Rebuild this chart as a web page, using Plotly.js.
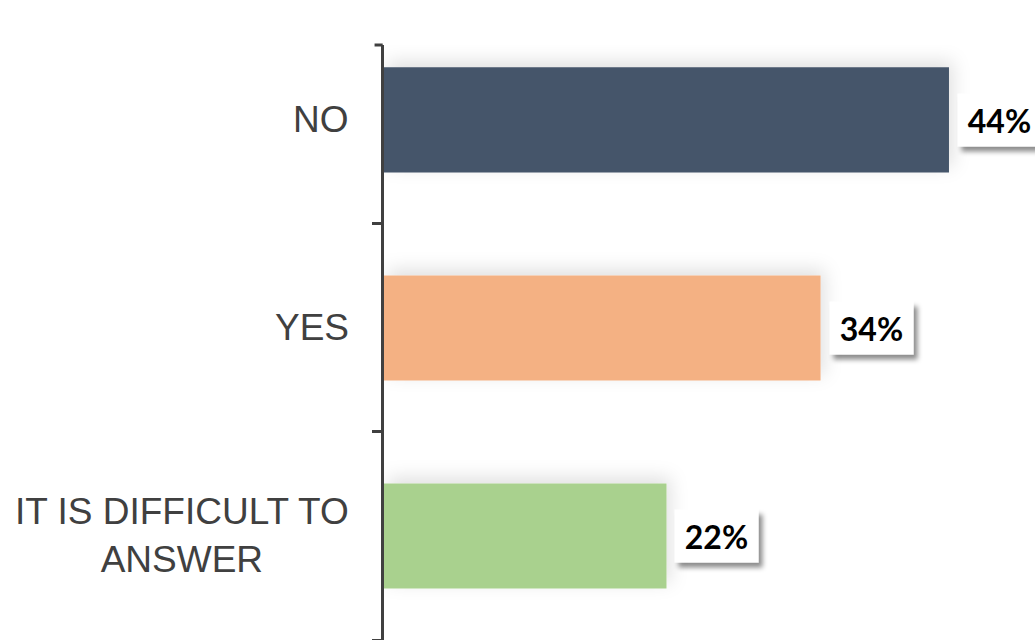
<!DOCTYPE html>
<html>
<head>
<meta charset="utf-8">
<script src="https://cdn.plot.ly/plotly-3.0.1.min.js"></script>
<style>
  html, body { margin: 0; padding: 0; background: #ffffff; }
  #chart { width: 1035px; height: 640px; }
</style>
</head>
<body>
<div id="chart"></div>
<script>
// ---- data ----
const categories = ["NO", "YES", "IT IS DIFFICULT TO ANSWER"];
const categoryLabels = ["NO", "YES", "IT IS DIFFICULT TO<br>ANSWER"];
const values = [44, 34, 22];
const barColors = ["#44546A", "#F4B183", "#A9D18E"];

// ---- chart ----
const barTrace = {
  type: "bar",
  orientation: "h",
  y: categories,
  x: values,
  width: 0.505,
  marker: { color: barColors, line: { width: 0 } },
  hoverinfo: "skip",
  showlegend: false
};

const annotations = [];
categories.forEach((c, i) => {
  annotations.push({
    xref: "paper", yref: "y", x: 0, y: c,
    xanchor: "right", yanchor: "middle", xshift: -33,
    text: categoryLabels[i], showarrow: false, align: "center",
    font: { family: "Liberation Sans, Arial, sans-serif", size: 37, color: "#404040" }
  });
  annotations.push({
    xref: "x", yref: "y", x: values[i], y: c,
    xanchor: "left", yanchor: "middle", xshift: 8,
    text: "<b>" + values[i] + "%</b>", showarrow: false,
    bgcolor: "#ffffff", width: 73, height: 42, borderpad: 5,
    font: { family: "Lato, Carlito, sans-serif", size: 32, color: "#000000" }
  });
});

const layout = {
  width: 1035, height: 640,
  margin: { l: 384, r: 0, t: 45, b: 0, pad: 0 },
  paper_bgcolor: "#ffffff", plot_bgcolor: "#ffffff",
  bargap: 0.5,
  xaxis: { range: [0, 50.7], visible: false, fixedrange: true },
  yaxis: {
    type: "category",
    categoryorder: "array",
    categoryarray: categories.slice().reverse(),
    range: [-0.5, 2.36],
    showline: true, linecolor: "#404040", linewidth: 3,
    ticks: "outside", tickson: "boundaries", ticklen: 9, tickwidth: 3, tickcolor: "#404040",
    showticklabels: false, showgrid: false, zeroline: false, fixedrange: true
  },
  shapes: [{
    type: "line", xref: "paper", yref: "paper",
    x0: -0.0145, x1: -0.002, y0: 1, y1: 1,
    line: { color: "#404040", width: 3 }
  }],
  annotations: annotations
};

Plotly.newPlot("chart", [barTrace], layout, { staticPlot: true, displayModeBar: false }).then(gd => {
  const svg = gd.querySelector("svg.main-svg");
  const NS = "http://www.w3.org/2000/svg";
  let defs = svg.querySelector("defs");
  if (!defs) { defs = document.createElementNS(NS, "defs"); svg.insertBefore(defs, svg.firstChild); }
  defs.insertAdjacentHTML("beforeend",
    '<filter id="boxShadow" x="-30%" y="-30%" width="170%" height="170%">' +
      '<feDropShadow dx="4" dy="5" stdDeviation="2.5" flood-color="#000" flood-opacity="0.45"/>' +
    '</filter>' +
    '<filter id="barGlow" x="-20%" y="-60%" width="140%" height="220%">' +
      '<feDropShadow dx="4" dy="-6" stdDeviation="9" flood-color="#000" flood-opacity="0.12"/>' +
    '</filter>');
  gd.querySelectorAll(".annotation").forEach(a => {
    const bg = a.querySelector("rect.bg");
    if (bg && bg.getAttribute("style") && bg.getAttribute("style").indexOf("255, 255, 255") >= 0) {
      bg.setAttribute("filter", "url(#boxShadow)");
    }
  });
  gd.querySelectorAll(".barlayer .point path").forEach(p => p.setAttribute("filter", "url(#barGlow)"));
});
</script>
</body>
</html>
